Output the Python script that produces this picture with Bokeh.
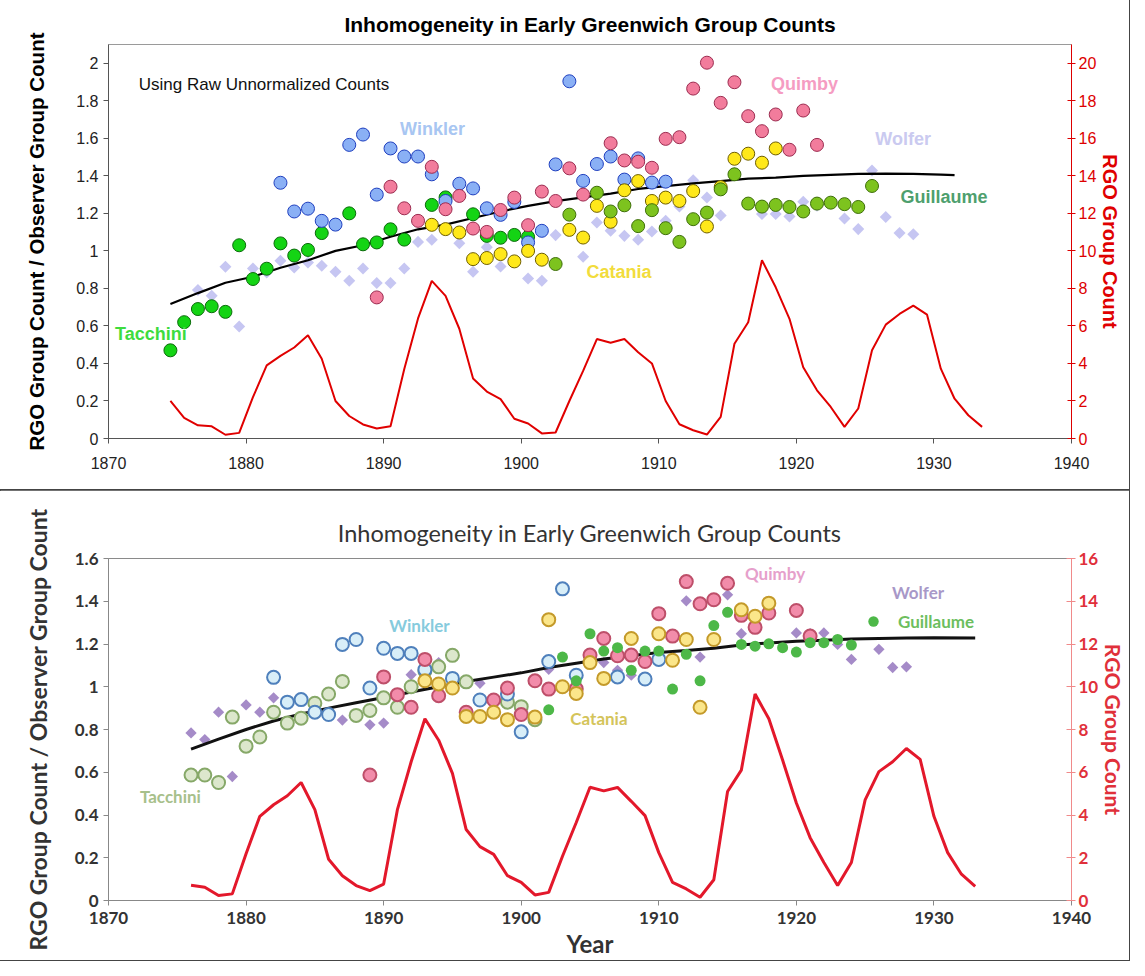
import math
from bokeh.plotting import figure
from bokeh.models import (Range1d, LinearAxis, FixedTicker, CustomJSTickFormatter,
                          Label, Legend, LegendItem)
from bokeh.layouts import column
from bokeh.embed import file_html
from bokeh.resources import INLINE

# ---------------- TOP PANEL DATA (raw unnormalized counts) ----------------
top_tacchini_year = [1874.5, 1875.5, 1876.5, 1877.5, 1878.5, 1879.5, 1880.5, 1881.5, 1882.5,
                     1883.5, 1884.5, 1885.5, 1887.5, 1888.5, 1889.5, 1890.5, 1891.5, 1893.5,
                     1894.5, 1896.5, 1897.5, 1898.5, 1899.5, 1900.5]
top_tacchini_val = [0.47, 0.62, 0.69, 0.705, 0.675, 1.03, 0.85, 0.905, 1.04,
                    0.975, 1.005, 1.095, 1.20, 1.035, 1.045, 1.115, 1.06, 1.245,
                    1.285, 1.195, 1.08, 1.07, 1.085, 1.075]

top_winkler_year = [1882.5, 1883.5, 1884.5, 1885.5, 1886.5, 1887.5, 1888.5, 1889.5, 1890.5,
                    1891.5, 1892.5, 1893.5, 1894.5, 1895.5, 1896.5, 1897.5, 1898.5, 1899.5,
                    1900.5, 1901.5, 1902.5, 1903.5, 1904.5, 1905.5, 1906.5, 1907.5, 1908.5,
                    1909.5, 1910.5]
top_winkler_val = [1.363, 1.21, 1.225, 1.16, 1.14, 1.565, 1.62, 1.30, 1.546,
                   1.503, 1.503, 1.408, 1.266, 1.358, 1.333, 1.227, 1.192, 1.261,
                   1.045, 1.107, 1.461, 1.904, 1.373, 1.463, 1.503, 1.38, 1.493,
                   1.364, 1.369]

top_quimby_year = [1889.5, 1890.5, 1891.5, 1892.5, 1893.5, 1894.5, 1895.5, 1896.5, 1897.5,
                   1898.5, 1899.5, 1900.5, 1901.5, 1902.5, 1903.5, 1904.5, 1906.5, 1907.5,
                   1908.5, 1909.5, 1910.5, 1911.5, 1912.5, 1913.5, 1914.5, 1915.5, 1916.5,
                   1917.5, 1918.5, 1919.5, 1920.5, 1921.5]
top_quimby_val = [0.752, 1.342, 1.227, 1.16, 1.448, 1.222, 1.293, 1.119, 1.101,
                  1.218, 1.284, 1.137, 1.316, 1.266, 1.44, 1.30, 1.574, 1.482,
                  1.475, 1.443, 1.597, 1.606, 1.865, 2.003, 1.789, 1.899, 1.718,
                  1.638, 1.727, 1.539, 1.748, 1.565]

top_catania_year = [1893.5, 1894.5, 1895.5, 1896.5, 1897.5, 1898.5, 1899.5, 1900.5, 1901.5,
                    1903.5, 1904.5, 1905.5, 1906.5, 1907.5, 1908.5, 1909.5, 1910.5, 1911.5,
                    1912.5, 1913.5, 1914.5, 1915.5, 1916.5, 1917.5, 1918.5]
top_catania_val = [1.139, 1.116, 1.098, 0.956, 0.962, 0.983, 0.944, 1.0, 0.953,
                   1.112, 1.071, 1.24, 1.155, 1.323, 1.372, 1.266, 1.284, 1.266,
                   1.319, 1.13, 1.34, 1.491, 1.518, 1.47, 1.546]

top_guillaume_year = [1902.5, 1903.5, 1905.5, 1906.5, 1907.5, 1908.5, 1909.5, 1910.5, 1911.5,
                      1912.5, 1913.5, 1914.5, 1915.5, 1916.5, 1917.5, 1918.5, 1919.5, 1920.5,
                      1921.5, 1922.5, 1923.5, 1924.5, 1925.5]
top_guillaume_val = [0.93, 1.193, 1.31, 1.21, 1.243, 1.132, 1.217, 1.121, 1.048,
                     1.169, 1.204, 1.328, 1.408, 1.252, 1.236, 1.245, 1.234, 1.21,
                     1.252, 1.257, 1.249, 1.234, 1.346]

top_wolfer_year = [1876.5, 1877.5, 1878.5, 1879.5, 1880.5, 1881.5, 1882.5, 1883.5, 1884.5,
                   1885.5, 1886.5, 1887.5, 1888.5, 1889.5, 1890.5, 1891.5, 1892.5, 1893.5,
                   1895.5, 1896.5, 1897.5, 1898.5, 1900.5, 1901.5, 1902.5, 1904.5, 1905.5,
                   1906.5, 1907.5, 1908.5, 1909.5, 1910.5, 1911.5, 1912.5, 1913.5, 1914.5,
                   1915.5, 1917.5, 1918.5, 1919.5, 1920.5, 1921.5, 1923.5, 1924.5, 1925.5,
                   1926.5, 1927.5, 1928.5]
top_wolfer_val = [0.792, 0.761, 0.916, 0.597, 0.906, 0.885, 0.947, 0.912, 0.938,
                  0.921, 0.889, 0.841, 0.906, 0.829, 0.829, 0.906, 1.048, 1.059,
                  1.041, 0.889, 1.02, 0.917, 0.853, 0.841, 1.084, 0.969, 1.151,
                  1.107, 1.08, 1.059, 1.103, 1.16, 1.236, 1.376, 1.284, 1.188,
                  1.417, 1.196, 1.196, 1.183, 1.262, 1.24, 1.172, 1.116, 1.429,
                  1.181, 1.095, 1.089]

top_trend_year = [1874.5, 1876.5, 1878.5, 1880.5, 1882.5, 1884.5, 1886.5, 1888.5, 1890.5,
                  1892.5, 1894.5, 1896.5, 1898.5, 1900.5, 1902.5, 1904.5, 1906.5, 1908.5,
                  1910.5, 1912.5, 1914.5, 1916.5, 1918.5, 1920.5, 1922.5, 1924.5, 1926.5,
                  1928.5, 1930.5, 1931.5]
top_trend_val = [0.717, 0.775, 0.83, 0.862, 0.91, 0.95, 1.0, 1.03, 1.075,
                 1.115, 1.14, 1.175, 1.21, 1.24, 1.265, 1.285, 1.305, 1.33,
                 1.345, 1.36, 1.372, 1.385, 1.39, 1.40, 1.405, 1.41, 1.412,
                 1.41, 1.406, 1.404]

top_rgo_year = [1874.5 + i for i in range(60)]
top_rgo_count = [2.0, 1.1, 0.7, 0.65, 0.2, 0.3, 2.2, 3.9, 4.4, 4.85,
                 5.5, 4.25, 2.0, 1.2, 0.75, 0.53, 0.65, 3.7, 6.4, 8.4,
                 7.6, 5.85, 3.2, 2.5, 2.1, 1.05, 0.8, 0.27, 0.32, 2.0,
                 3.6, 5.3, 5.1, 5.3, 4.6, 4.0, 2.0, 0.76, 0.44, 0.21,
                 1.15, 5.05, 6.2, 9.5, 8.06, 6.38, 3.8, 2.57, 1.68, 0.62,
                 1.6, 4.7, 6.07, 6.64, 7.08, 6.6, 3.72, 2.12, 1.24, 0.62]

# ---------------- BOTTOM PANEL DATA ----------------
bot_tacchini_year = [1876, 1877, 1878, 1879, 1880, 1881, 1882, 1883, 1884, 1885, 1886, 1887,
                     1888, 1889, 1890, 1891, 1892, 1893, 1894, 1895, 1896, 1899, 1900, 1901]
bot_tacchini_val = [0.587, 0.587, 0.552, 0.858, 0.722, 0.765, 0.881, 0.83, 0.853, 0.923, 0.966, 1.025,
                    0.866, 0.889, 0.948, 0.904, 1.0, 1.074, 1.093, 1.147, 1.023, 0.928, 0.907, 0.846]

bot_winkler_year = [1882, 1883, 1884, 1885, 1886, 1887, 1888, 1889, 1890, 1891, 1892, 1893,
                    1895, 1897, 1899, 1900, 1902, 1903, 1904, 1907, 1909, 1910]
bot_winkler_val = [1.044, 0.928, 0.94, 0.881, 0.87, 1.198, 1.221, 0.994, 1.18, 1.156, 1.156, 1.08,
                   1.039, 0.938, 0.966, 0.789, 1.118, 1.458, 1.054, 1.046, 1.036, 1.128]

bot_quimby_year = [1889, 1890, 1891, 1892, 1893, 1894, 1896, 1898, 1899, 1900, 1901, 1902,
                   1904, 1905, 1906, 1907, 1908, 1909, 1910, 1911, 1912, 1913, 1914, 1915,
                   1916, 1917, 1918, 1920, 1921]
bot_quimby_val = [0.587, 1.046, 0.963, 0.904, 1.128, 0.958, 0.881, 0.938, 0.994, 0.87, 1.028, 0.989,
                  0.99, 1.148, 1.226, 1.145, 1.148, 1.118, 1.342, 1.237, 1.492, 1.388, 1.407, 1.484,
                  1.334, 1.278, 1.345, 1.357, 1.237]

bot_catania_year = [1893, 1894, 1895, 1896, 1897, 1898, 1899, 1901, 1902, 1903, 1904, 1905,
                    1906, 1908, 1910, 1911, 1912, 1913, 1914, 1916, 1917, 1918]
bot_catania_val = [1.028, 1.013, 0.994, 0.861, 0.861, 0.881, 0.846, 0.858, 1.314, 1.0, 0.969, 1.113,
                   1.039, 1.226, 1.248, 1.124, 1.221, 0.904, 1.221, 1.36, 1.33, 1.391]

bot_guillaume_year = [1902, 1903, 1904, 1905, 1906, 1907, 1908, 1909, 1910, 1911, 1912, 1913,
                      1914, 1915, 1916, 1917, 1918, 1919, 1920, 1921, 1922, 1923, 1924]
bot_guillaume_val = [0.892, 1.139, 1.028, 1.248, 1.167, 1.183, 1.077, 1.167, 1.167, 0.989, 1.152, 1.028,
                     1.286, 1.348, 1.198, 1.19, 1.201, 1.183, 1.162, 1.206, 1.206, 1.221, 1.195]

bot_wolfer_year = [1876, 1877, 1878, 1879, 1880, 1881, 1882, 1887, 1889, 1890, 1892, 1894,
                   1897, 1902, 1906, 1907, 1908, 1912, 1913, 1915, 1916, 1920, 1921, 1922,
                   1923, 1924, 1926, 1927, 1928]
bot_wolfer_val = [0.784, 0.753, 0.881, 0.58, 0.915, 0.881, 0.948, 0.844, 0.822, 0.83, 1.056, 1.113,
                  1.016, 1.082, 1.113, 1.077, 1.054, 1.402, 1.139, 1.43, 1.248, 1.252, 1.248, 1.252,
                  1.198, 1.128, 1.175, 1.09, 1.093]

bot_trend_year = [1876, 1878, 1880, 1882, 1884, 1886, 1888, 1890, 1892, 1894, 1896, 1898,
                  1900, 1902, 1904, 1906, 1908, 1910, 1912, 1914, 1916, 1918, 1920, 1922,
                  1924, 1926, 1928, 1930, 1933]
bot_trend_val = [0.708, 0.755, 0.80, 0.84, 0.873, 0.90, 0.925, 0.95, 0.975, 1.0, 1.025, 1.045,
                 1.065, 1.09, 1.11, 1.13, 1.145, 1.16, 1.17, 1.18, 1.195, 1.205, 1.213, 1.218,
                 1.223, 1.226, 1.228, 1.229, 1.228]

bot_rgo_year = list(range(1876, 1934))
bot_rgo_count = [0.71, 0.62, 0.23, 0.31, 2.19, 3.94, 4.48, 4.9, 5.52, 4.25,
                 1.93, 1.16, 0.70, 0.46, 0.77, 4.25, 6.49, 8.50, 7.50, 5.95,
                 3.32, 2.52, 2.16, 1.16, 0.85, 0.26, 0.38, 2.07, 3.65, 5.3,
                 5.13, 5.29, 4.64, 3.97, 2.24, 0.85, 0.54, 0.15, 0.97, 5.10,
                 6.1, 9.66, 8.50, 6.57, 4.56, 2.94, 1.78, 0.70, 1.78, 4.71,
                 6.03, 6.49, 7.11, 6.6, 3.94, 2.24, 1.23, 0.66]

TITLE = "Inhomogeneity in Early Greenwich Group Counts"
YLABEL = "RGO Group Count / Observer Group Count"
RLABEL = "RGO Group Count"
year_ticks = list(range(1870, 1941, 10))

fmt = CustomJSTickFormatter(code="return Number(tick.toFixed(2)).toString();")

W = 1129
H1 = 490
H2 = 470

# ======================= TOP FIGURE =======================
F1 = "Liberation Sans"
p1 = figure(width=W, height=H1, x_range=Range1d(1870, 1940), y_range=Range1d(0, 2.1),
            output_backend="svg", toolbar_location=None,
            min_border_left=108, min_border_right=49, min_border_top=44, min_border_bottom=52)
p1.styles = {"outline": "1px solid #444"}
p1.extra_y_ranges = {"rgo": Range1d(0, 21)}
p1.grid.visible = False
p1.outline_line_color = "#9a9a9a"
p1.title.text = TITLE
p1.title.align = "center"
p1.title.text_font = F1
p1.title.text_font_size = "21px"
p1.title.text_font_style = "bold"
p1.title.text_color = "#000000"
p1.title.standoff = 18

xa = p1.xaxis[0]
xa.ticker = FixedTicker(ticks=year_ticks)
xa.axis_line_color = "#555555"
xa.major_tick_line_color = "#555555"
xa.major_tick_in = 0
xa.major_tick_out = 5
xa.minor_tick_line_color = None
xa.major_label_text_font = F1
xa.major_label_text_font_size = "16px"
xa.major_label_text_color = "#222222"
xa.major_label_standoff = 13

ya = p1.yaxis[0]
ya.ticker = FixedTicker(ticks=[i / 5 for i in range(11)])
ya.formatter = fmt
ya.axis_line_color = "#555555"
ya.major_tick_line_color = "#555555"
ya.major_tick_in = 0
ya.major_tick_out = 5
ya.minor_tick_line_color = None
ya.major_label_text_font = F1
ya.major_label_text_font_size = "16px"
ya.major_label_text_color = "#222222"
ya.axis_label = YLABEL
ya.axis_label_text_font = F1
ya.axis_label_text_font_size = "20.5px"
ya.axis_label_text_font_style = "bold"
ya.axis_label_text_color = "#000000"
ya.axis_label_standoff = 25

ra = LinearAxis(y_range_name="rgo", ticker=FixedTicker(ticks=list(range(0, 21, 2))))
ra.axis_line_color = "#DD0000"
ra.major_tick_line_color = "#DD0000"
ra.major_tick_in = 4
ra.major_tick_out = 4
ra.minor_tick_line_color = None
ra.major_label_text_font = F1
ra.major_label_text_font_size = "16px"
ra.major_label_text_color = "#DD0000"
ra.major_label_standoff = 3
ra.axis_label = RLABEL
ra.axis_label_text_font = F1
ra.axis_label_text_font_size = "20px"
ra.axis_label_text_font_style = "bold"
ra.axis_label_text_color = "#E00000"
ra.axis_label_standoff = 0
p1.add_layout(ra, "right")

p1.line(top_rgo_year, top_rgo_count, y_range_name="rgo", line_color="#E00000", line_width=2)
p1.scatter(top_wolfer_year, top_wolfer_val, marker="square", angle=math.pi / 4, size=8.5,
           fill_color="#C6C6F2", line_color=None)
p1.line(top_trend_year, top_trend_val, line_color="#000000", line_width=2.2)
p1.scatter(top_tacchini_year, top_tacchini_val, marker="circle", size=13,
           fill_color="#14D414", line_color="#0B6A0B", line_width=1)
p1.scatter(top_winkler_year, top_winkler_val, marker="circle", size=13,
           fill_color="#8AB0F5", line_color="#1F3FBF", line_width=1)
p1.scatter(top_quimby_year, top_quimby_val, marker="circle", size=13,
           fill_color="#F27C9C", line_color="#9C2C50", line_width=1)
p1.scatter(top_catania_year, top_catania_val, marker="circle", size=13,
           fill_color="#FFE81A", line_color="#6E5E00", line_width=1)
p1.scatter(top_guillaume_year, top_guillaume_val, marker="circle", size=13,
           fill_color="#7DC31E", line_color="#3E6E0A", line_width=1)

p1.add_layout(Label(x=1872.2, y=1.885, text="Using Raw Unnormalized Counts", text_align="left",
                    text_baseline="middle", text_font=F1, text_font_size="17px", text_color="#111111"))
for txt, lx, ly, col in [("Winkler", 1893.55, 1.647, "#A8C6F2"),
                         ("Tacchini", 1873.08, 0.558, "#3EDC3E"),
                         ("Catania", 1907.1, 0.889, "#F2DC3C"),
                         ("Quimby", 1920.6, 1.89, "#F59CC2"),
                         ("Wolfer", 1927.76, 1.597, "#CACAF0"),
                         ("Guillaume", 1930.74, 1.289, "#4E9F6E")]:
    p1.add_layout(Label(x=lx, y=ly, text=txt, text_align="center", text_baseline="middle",
                        text_font=F1, text_font_size="18px", text_font_style="bold", text_color=col))

# ======================= BOTTOM FIGURE =======================
F2 = "Lato"
p2 = figure(width=W, height=H2, x_range=Range1d(1870, 1940), y_range=Range1d(0, 1.6),
            output_backend="svg", toolbar_location=None,
            min_border_left=107, min_border_right=49, min_border_top=68, min_border_bottom=60)
p2.styles = {"outline": "1px solid #444"}
p2.extra_y_ranges = {"rgo": Range1d(0, 16)}
p2.grid.visible = False
p2.outline_line_color = "#8a8a8a"
p2.title.text = TITLE
p2.title.align = "center"
p2.title.text_font = F2
p2.title.text_font_size = "23.5px"
p2.title.text_font_style = "normal"
p2.title.text_color = "#333333"
p2.title.standoff = 23

xb = p2.xaxis[0]
xb.ticker = FixedTicker(ticks=year_ticks)
xb.axis_line_color = "#888888"
xb.major_tick_line_color = "#888888"
xb.major_tick_in = 0
xb.major_tick_out = 5
xb.minor_tick_line_color = None
xb.major_label_text_font = F2
xb.major_label_text_font_size = "17px"
xb.major_label_text_font_style = "bold"
xb.major_label_text_color = "#333333"
xb.major_label_standoff = 6
xb.axis_label = "Year"
xb.axis_label_text_font = F2
xb.axis_label_text_font_size = "24px"
xb.axis_label_text_font_style = "bold"
xb.axis_label_text_color = "#333333"
xb.axis_label_standoff = 2

yb = p2.yaxis[0]
yb.ticker = FixedTicker(ticks=[i / 5 for i in range(9)])
yb.formatter = fmt
yb.axis_line_color = "#888888"
yb.major_tick_line_color = "#888888"
yb.major_tick_in = 0
yb.major_tick_out = 5
yb.minor_tick_line_color = None
yb.major_label_text_font = F2
yb.major_label_text_font_size = "17px"
yb.major_label_text_font_style = "bold"
yb.major_label_text_color = "#333333"
yb.axis_label = YLABEL
yb.axis_label_text_font = F2
yb.axis_label_text_font_size = "23px"
yb.axis_label_text_font_style = "bold"
yb.axis_label_text_color = "#333333"
yb.axis_label_standoff = 20

rb = LinearAxis(y_range_name="rgo", ticker=FixedTicker(ticks=list(range(0, 17, 2))))
rb.axis_line_color = "#F08A8A"
rb.major_tick_line_color = "#F08A8A"
rb.major_tick_in = 5
rb.major_tick_out = 4
rb.minor_tick_line_color = None
rb.major_label_text_font = F2
rb.major_label_text_font_size = "17px"
rb.major_label_text_font_style = "bold"
rb.major_label_text_color = "#E0303A"
rb.major_label_standoff = 3
rb.axis_label = RLABEL
rb.axis_label_text_font = F2
rb.axis_label_text_font_size = "21px"
rb.axis_label_text_font_style = "bold"
rb.axis_label_text_color = "#E0303A"
rb.axis_label_standoff = 0
p2.add_layout(rb, "right")

p2.line(bot_rgo_year, bot_rgo_count, y_range_name="rgo", line_color="#E3182B", line_width=3)
p2.scatter(bot_wolfer_year, bot_wolfer_val, marker="square", angle=math.pi / 4, size=8,
           fill_color="#A58BC8", line_color=None)
p2.line(bot_trend_year, bot_trend_val, line_color="#111111", line_width=3)
p2.scatter(bot_tacchini_year, bot_tacchini_val, marker="circle", size=13,
           fill_color="#DCE7CC", line_color="#86A868", line_width=2)
p2.scatter(bot_winkler_year, bot_winkler_val, marker="circle", size=13,
           fill_color="#D8EEF8", line_color="#4F80BC", line_width=2)
p2.scatter(bot_quimby_year, bot_quimby_val, marker="circle", size=13,
           fill_color="#F28CAA", line_color="#BE4F6A", line_width=2)
p2.scatter(bot_catania_year, bot_catania_val, marker="circle", size=13,
           fill_color="#FBE68A", line_color="#C49A2A", line_width=2)
r_guil = p2.scatter(bot_guillaume_year, bot_guillaume_val, marker="circle", size=11,
                    fill_color="#4DB848", line_color=None)
# legend-only glyph (no data) so the Wolfer key shows a diamond
r_wkey = p2.scatter(x=[], y=[], marker="diamond", fill_color="#A58BC8", line_color=None)

for txt, lx, ly, col in [("Winkler", 1892.6, 1.288, "#86CBDD"),
                         ("Tacchini", 1874.5, 0.487, "#A7C08B"),
                         ("Catania", 1905.65, 0.85, "#D4C45A"),
                         ("Quimby", 1918.45, 1.53, "#E6A0CB")]:
    p2.add_layout(Label(x=lx, y=ly, text=txt, text_align="center", text_baseline="middle",
                        text_font=F2, text_font_size="17px", text_font_style="bold", text_color=col))

leg_w = Legend(items=[LegendItem(label="Wolfer", renderers=[r_wkey])], location=(754, 296),
               glyph_width=24, glyph_height=24, label_height=24, label_standoff=6,
               padding=0, spacing=0, margin=0, border_line_color=None, background_fill_alpha=0,
               label_text_font=F2, label_text_font_size="17px", label_text_font_style="bold",
               label_text_color="#A898C8")
leg_g = Legend(items=[LegendItem(label="Guillaume", renderers=[r_guil])], location=(752, 266),
               glyph_width=26, glyph_height=26, label_height=26, label_standoff=12,
               padding=0, spacing=0, margin=0, border_line_color=None, background_fill_alpha=0,
               label_text_font=F2, label_text_font_size="17px", label_text_font_style="bold",
               label_text_color="#6DBE5E")
p2.add_layout(leg_w)
p2.add_layout(leg_g)

layout = column(p1, p2)
open("out.html", "w").write(file_html(layout, INLINE))
